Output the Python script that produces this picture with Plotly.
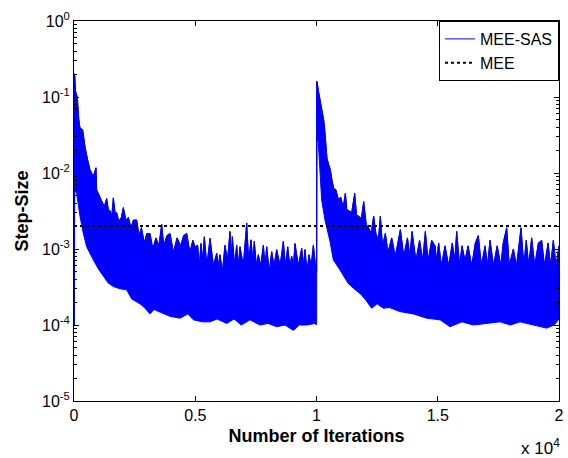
import plotly.graph_objects as go

# ---------------- data ----------------
# MEE-SAS step-size: upper outline of the noisy band (iteration, value)
upper_iter = [0, 0, 28, 60, 136, 200, 247, 358, 454, 560, 660, 800, 907, 935, 1040, 1141,
              1250, 1347, 1420, 1485, 1560, 1622, 1700, 1760, 1850, 1950, 2035, 2140, 2241,
              2350, 2450, 2585, 2680, 2780, 2900, 3000, 3134, 3250, 3380, 3500, 3616, 3700,
              3830, 3959, 4100, 4250, 4400, 4520, 4647, 4780, 4900, 4990,
              5100, 5170, 5238, 5300, 5375, 5480, 5609, 5750, 5885, 5950, 6021, 6120, 6227,
              6330, 6433, 6480, 6530, 6620, 6708, 6780, 6846, 6980, 7122, 7200, 7300, 7370,
              7436, 7520, 7601, 7700, 7808, 7880, 7946, 8050, 8153, 8250, 8359, 8500, 8632,
              8720, 8813, 8900, 8978, 9050, 9114, 9250, 9390, 9460, 9527, 9610, 9691, 9780,
              9870, 9960, 10004,
              10008, 10021, 10080, 10158, 10230, 10296, 10330, 10433, 10500, 10571, 10640,
              10708, 10800, 10900, 11000, 11100, 11190, 11250, 11328, 11450, 11575, 11650,
              11740, 11850, 11946, 12050, 12152, 12250, 12358, 12450, 12550, 12634, 12720,
              12840, 12950, 13100, 13250, 13458, 13600, 13750, 13850, 13940, 14100, 14250,
              14380, 14488, 14600, 14750, 14887, 14950, 15038, 15150, 15300, 15450, 15600,
              15700, 15782, 15900, 16000, 16124, 16250, 16400, 16550, 16673, 16800, 16950,
              17050, 17155, 17300, 17450, 17600, 17700, 17843, 17950, 18117, 18250, 18433,
              18550, 18650, 18750, 18873, 19000, 19150, 19286, 19400, 19550, 19650, 19766,
              19880, 20000]
upper_val = [1.0e-4, 0.2, 0.2, 0.12, 0.1, 0.05, 0.039, 0.037, 0.022, 0.015, 0.011, 0.009,
             0.0117, 0.006, 0.005, 0.0044, 0.0036, 0.0046, 0.0032, 0.0032, 0.0027, 0.0047,
             0.0029, 0.0030, 0.0023, 0.0026, 0.0035, 0.0024, 0.0026, 0.0019, 0.0024, 0.0024,
             0.0015, 0.0019, 0.0012, 0.0016, 0.0016, 0.0010, 0.0014, 0.0011, 0.0021, 0.0011,
             0.0015, 0.0016, 0.0009, 0.0014, 0.0011, 0.0015, 0.0016, 0.0009, 0.0013, 0.00107,
             0.00112, 0.0006, 0.00118, 0.0007, 0.00145, 0.0006, 0.00138, 0.0006, 0.00088,
             0.0006, 0.00084, 0.0005, 0.00112, 0.0007, 0.0017, 0.0007, 0.00145, 0.0006,
             0.00112, 0.0006, 0.00107, 0.0006, 0.0022, 0.0007, 0.00132, 0.0007, 0.00126,
             0.0006, 0.00084, 0.0006, 0.00112, 0.0006, 0.00107, 0.0005, 0.00092, 0.0006,
             0.00098, 0.0006, 0.00126, 0.0006, 0.00107, 0.0006, 0.0008, 0.0006, 0.00118,
             0.0006, 0.00102, 0.0006, 0.00098, 0.0005, 0.00084, 0.0006, 0.00112, 0.0006,
             0.0005,
             0.16, 0.16, 0.12, 0.09, 0.07, 0.05, 0.04, 0.0155, 0.013, 0.011, 0.008, 0.0063,
             0.006, 0.0045, 0.0048, 0.0035, 0.0054, 0.0033, 0.0032, 0.0030, 0.0054, 0.0028,
             0.0027, 0.0025, 0.0042, 0.0021, 0.0019, 0.0016, 0.0027, 0.0016, 0.0013, 0.0027,
             0.0011, 0.0016, 0.0009, 0.0014, 0.0008, 0.0018, 0.0008, 0.0014, 0.0008, 0.0017,
             0.0007, 0.0013, 0.0007, 0.0017, 0.0007, 0.0013, 0.0011, 0.0007, 0.0012, 0.0006,
             0.0011, 0.0006, 0.0012, 0.0007, 0.0017, 0.0006, 0.0011, 0.0007, 0.0011, 0.0006,
             0.0012, 0.0015, 0.0006, 0.0011, 0.0006, 0.0013, 0.0006, 0.0011, 0.0006, 0.0012,
             0.0019, 0.0006, 0.0010, 0.0006, 0.0019, 0.0006, 0.0013, 0.0006, 0.0014, 0.0006,
             0.0012, 0.0013, 0.0006, 0.0012, 0.0006, 0.0013, 0.0006, 0.0011]

# MEE-SAS step-size: lower outline of the noisy band (iteration, value)
lower_iter = [0, 15, 30, 110, 247, 385, 522, 797, 1000, 1210, 1400, 1622, 1900, 2173, 2379,
              2722, 2900, 3134, 3300, 3547, 3959, 4371, 4700, 4921, 5300, 5608, 5900, 6296,
              6600, 6900, 7258, 7670, 8000, 8357, 8700, 9045, 9300, 9595, 9939, 10004,
              10010, 10020, 10076, 10213, 10351, 10557, 10694, 10969, 11313, 11550, 11795,
              12000, 12277, 12500, 12758, 13000, 13444, 13994, 14544, 15093, 15506, 16000,
              16468, 17018, 17568, 18000, 18393, 18942, 19492, 19800, 20000]
lower_val = [1.0e-4, 1.0e-4, 0.006, 0.0054, 0.0027, 0.0016, 0.00107, 0.00072, 0.00055,
             0.00044, 0.00036, 0.00032, 0.0003, 0.00029, 0.00022, 0.00019, 0.00017, 0.00014,
             0.00016, 0.00015, 0.00013, 0.000123, 0.00014, 0.000117, 0.00011, 0.00011,
             0.00012, 0.000105, 0.00012, 0.0001, 0.000117, 0.0001, 0.000105, 0.000095,
             0.0001, 0.000085, 0.0001, 0.0001, 0.000105, 0.0001,
             0.0001, 0.03, 0.025, 0.0044, 0.0024, 0.00126, 0.00072, 0.00053, 0.00035,
             0.0003, 0.00026, 0.00022, 0.000166, 0.00019, 0.000166, 0.00017, 0.00015,
             0.00014, 0.000123, 0.000117, 0.000095, 0.00011, 0.0001, 0.000105, 0.00011,
             0.0001, 0.00011, 0.0001, 0.000091, 0.0001, 0.00012]

# MEE fixed step-size
mee_iter = [0, 20000]
mee_val = [2.0e-3, 2.0e-3]

x_tickvals = [0, 5000, 10000, 15000, 20000]
x_ticktext = ["0", "0.5", "1", "1.5", "2"]
y_decades = [-5, -4, -3, -2, -1, 0]
y_ticktext = ["10<sup>%d</sup>" % d for d in y_decades]

# ---------------- figure ----------------
FONT = "Arial, Liberation Sans, sans-serif"
fig = go.Figure()

# band polygon (upper outline then lower outline reversed)
fig.add_trace(go.Scatter(
    x=upper_iter + lower_iter[::-1],
    y=upper_val + lower_val[::-1],
    mode="lines", fill="toself", fillcolor="#0000FF",
    line=dict(color="#0000FF", width=1),
    showlegend=False, hoverinfo="skip"))

fig.add_trace(go.Scatter(
    x=upper_iter, y=upper_val, mode="lines", name="MEE-SAS",
    line=dict(color="#0000FF", width=1)))

fig.add_trace(go.Scatter(
    x=mee_iter, y=mee_val, mode="lines", name="MEE",
    line=dict(color="black", width=2, dash="dot")))

minor_vals = [m * 10.0 ** d for d in y_decades[:-1] for m in range(2, 10)]

fig.update_layout(
    width=568, height=458,
    margin=dict(l=74, r=9, t=21, b=57),
    paper_bgcolor="white", plot_bgcolor="white",
    font=dict(family=FONT, size=16, color="black"),
    showlegend=True,
    legend=dict(x=1, y=1, xanchor="right", yanchor="top",
                bgcolor="white", bordercolor="black", borderwidth=1,
                font=dict(size=16), tracegroupgap=0),
    xaxis=dict(range=[0, 20000], tickmode="array", tickvals=x_tickvals,
               ticktext=x_ticktext, ticks="inside", ticklen=5, tickcolor="black",
               tickfont=dict(size=16), automargin=False,
               showline=True, linecolor="black", linewidth=1, mirror="ticks",
               showgrid=False, zeroline=False,
               title=dict(text="<b>Number of Iterations</b>", font=dict(size=18),
                          standoff=6)),
    yaxis=dict(type="log", range=[-5, 0], tickmode="array",
               tickvals=[10.0 ** d for d in y_decades], ticktext=y_ticktext,
               ticks="inside", ticklen=5, tickcolor="black",
               tickfont=dict(size=16), automargin=False,
               showline=True, linecolor="black", linewidth=1, mirror="ticks",
               showgrid=False, zeroline=False,
               minor=dict(tickmode="array", tickvals=minor_vals, ticks="inside",
                          ticklen=3, tickcolor="black", showgrid=False),
               title=dict(text="<b>Step-Size</b>", font=dict(size=18), standoff=8)),
    annotations=[dict(text="x 10<sup>4</sup>", xref="paper", yref="paper",
                      x=1.0, y=-0.12, xanchor="right", yanchor="middle", xshift=3,
                      showarrow=False, font=dict(size=17))],
)

fig.write_html("out.html")
